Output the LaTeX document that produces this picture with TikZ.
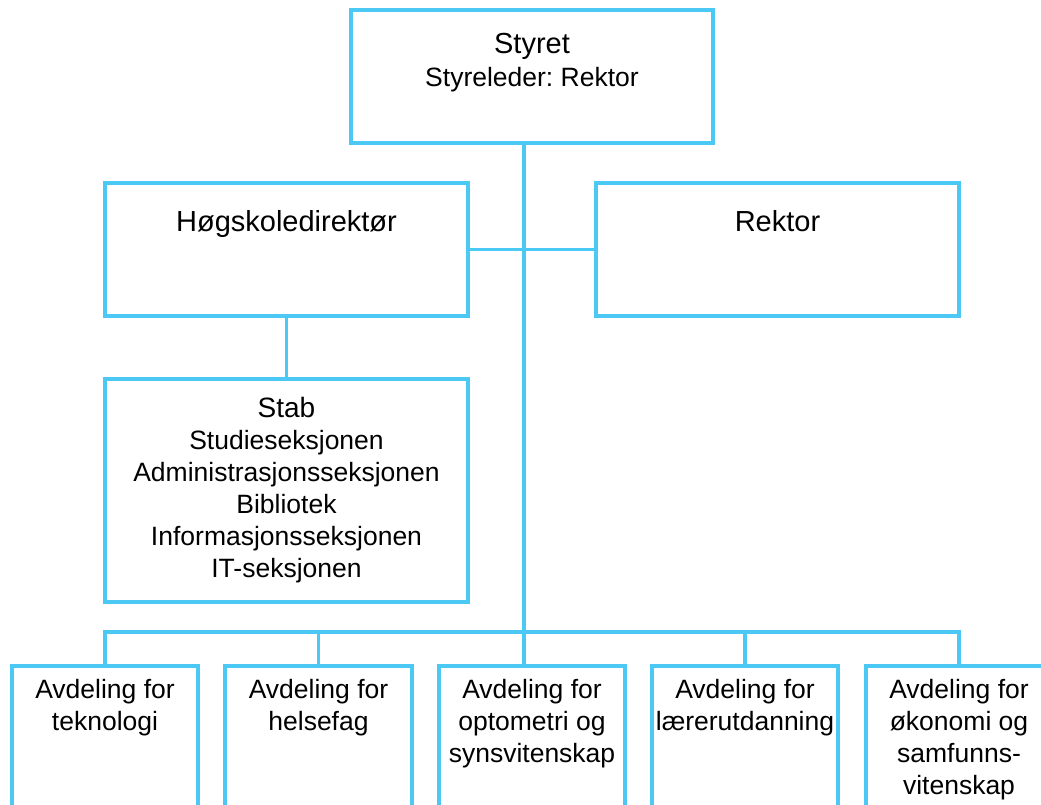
\documentclass[tikz,border=0pt]{standalone}
\usepackage{fontspec}
\setmainfont{Liberation Sans}
\frenchspacing
\definecolor{lb}{RGB}{76,200,245}
\begin{document}
\begin{tikzpicture}[x=1pt,y=-1pt,
  box/.style={draw=lb, line width=3.2pt, rectangle, inner sep=0pt},
  conn/.style={draw=lb, line width=3.2pt},
  ttl/.style={font=\fontsize{29}{34}\selectfont, inner sep=0pt, anchor=base},
  stabttl/.style={font=\fontsize{28}{32}\selectfont, inner sep=0pt, anchor=base},
  txt/.style={font=\fontsize{26.5}{32}\selectfont, inner sep=0pt, anchor=north, align=center}]
\useasboundingbox (0,0) rectangle (1041,805);
\clip (0,0) rectangle (1041,805);
% boxes
\node[box, minimum width=362pt, minimum height=133pt] (sty) at (532,76.5) {};
\node[box, minimum width=363pt, minimum height=133pt] (hog) at (286.5,249.5) {};
\node[box, minimum width=363pt, minimum height=133pt] (rek) at (777.5,249.5) {};
\node[box, minimum width=363pt, minimum height=223pt] (stab) at (286.5,490.5) {};
\node[box, minimum width=186pt, minimum height=184pt] (b1) at (105,758) {};
\node[box, minimum width=187pt, minimum height=184pt] (b2) at (318.5,758) {};
\node[box, minimum width=186pt, minimum height=184pt] (b3) at (532,758) {};
\node[box, minimum width=186pt, minimum height=184pt] (b4) at (745,758) {};
\node[box, minimum width=186pt, minimum height=184pt] (b5) at (959,758) {};
% texts
\node[ttl] (tsty) at (532,54) {Styret};
\node[ttl, font=\fontsize{26.5}{32}\selectfont] (tsty2) at (532,87) {Styreleder: Rektor};
\node[ttl] (thog) at (286.5,232) {Høgskoledirektør};
\node[ttl] (trek) at (777.5,232) {Rektor};
\node[stabttl] (tstab) at (286.5,417) {Stab};
\node[txt] (tstab2) at (286.5,430.5) {Studieseksjonen\\Administrasjonsseksjonen\\Bibliotek\\Informasjonsseksjonen\\IT-seksjonen};
\node[txt] (tb1) at (105,678.8) {Avdeling for\\teknologi};
\node[txt] (tb2) at (318.5,678.8) {Avdeling for\\helsefag};
\node[txt] (tb3) at (532,678.8) {Avdeling for\\optometri og\\synsvitenskap};
\node[txt] (tb4) at (745,678.8) {Avdeling for\\lærerutdanning};
\node[txt] (tb5) at (959,678.8) {Avdeling for\\økonomi og\\samfunns-\\vitenskap};
% connectors
\coordinate (bus) at (524,632);
\draw[conn] (sty.south -| bus) -- (bus) -- (b3.north -| bus);
\draw[conn] (hog.east) -- (rek.west);
\draw[conn] (hog.south) -- (stab.north);
\draw[conn] (b1.north) -- (b1.north |- bus) -- (b5.north |- bus) -- (b5.north);
\draw[conn] (b2.north) -- (b2.north |- bus);
\draw[conn] (b4.north) -- (b4.north |- bus);
\end{tikzpicture}
\end{document}
